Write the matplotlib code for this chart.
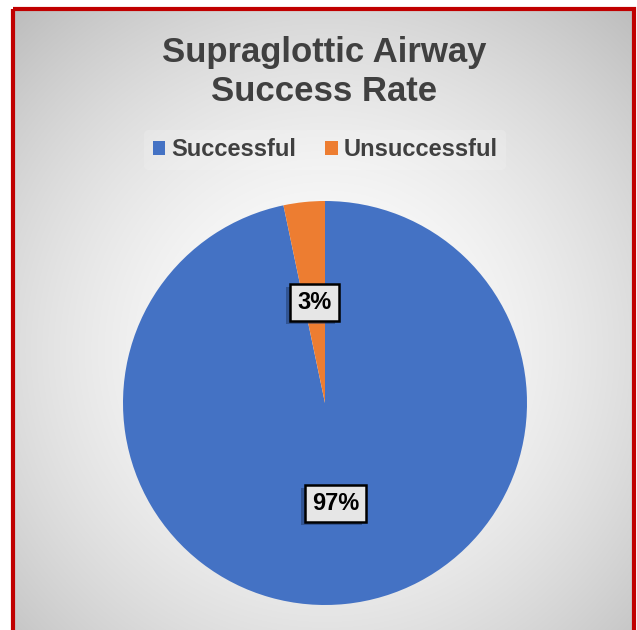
import numpy as np
import matplotlib
matplotlib.use("Agg")
import matplotlib.pyplot as plt
from matplotlib.patches import Rectangle
import matplotlib.patheffects as pe

plt.rcParams['font.family'] = ['Liberation Sans', 'DejaVu Sans']

title = "Supraglottic Airway\nSuccess Rate"
categories = ["Successful", "Unsuccessful"]
shares = [96.7, 3.3]
colors = ["#4472C4", "#ED7D31"]

W, H = 637, 630
fig = plt.figure(figsize=(W / 100, H / 100), dpi=100)
fig.patch.set_facecolor('white')

# background with radial gradient and red frame
bg = fig.add_axes([0, 0, 1, 1])
bg.axis('off')
x0, y0, x1, y1 = 13, 9, 634, 660
cx, cy = 325, 350
yy, xx = np.mgrid[y0:H, x0:x1]
r = np.hypot(xx - cx, yy - cy) / 450.0
g = 1 - 0.25 * np.clip(r, 0, 1.3) ** 1.7
img = np.dstack([g, g, g])
bg.imshow(img, extent=(x0, x1, H, y0), interpolation='bilinear', zorder=0)
bg.add_patch(Rectangle((x0, y0), x1 - x0, y1 - y0, fill=False, ec='#C00000', lw=3, zorder=2))
bg.set_xlim(0, W)
bg.set_ylim(H, 0)
bg.set_aspect('auto')

# pie
pcx, pcy, pr = 325, 403, 202
ax = fig.add_axes([(pcx - pr) / W, (H - pcy - pr) / H, 2 * pr / W, 2 * pr / H])
wedges, texts, autotexts = ax.pie(
    shares, colors=colors, startangle=90, counterclock=False,
    autopct=lambda p: f"{p:.0f}%", pctdistance=0.5, radius=1,
    wedgeprops=dict(linewidth=0))
ax.set_xlim(-1, 1)
ax.set_ylim(-1, 1)
ax.set_aspect('equal')

for t in autotexts:
    t.set_fontsize(17)
    t.set_fontweight('bold')
    t.set_color('black')
    t.set_bbox(dict(boxstyle='square,pad=0.3', fc='#e6e6e6', ec='black', lw=1.8))
    t.get_bbox_patch().set_path_effects([
        pe.SimplePatchShadow(offset=(-3, -2), shadow_rgbFace='#1f3864', alpha=0.5),
        pe.Normal()])

# title
fig.text(324 / W, 1 - 72 / H, title, ha='center', va='center', fontsize=25,
         fontweight='bold', color='#404040', linespacing=1.22)

# legend
leg = fig.legend(handles=wedges, labels=categories, loc='center',
                 bbox_to_anchor=(325 / W, 1 - 150 / H), ncol=2, frameon=True,
                 prop=dict(size=17, weight='bold'), handlelength=0.55,
                 handleheight=0.55, handletextpad=0.25, columnspacing=1.2,
                 borderpad=0.35, borderaxespad=0)
leg.get_frame().set_facecolor('white')
leg.get_frame().set_alpha(0.15)
leg.get_frame().set_edgecolor('none')
for t in leg.get_texts():
    t.set_color('#404040')

fig.savefig('out.png', dpi=100, facecolor='white')
